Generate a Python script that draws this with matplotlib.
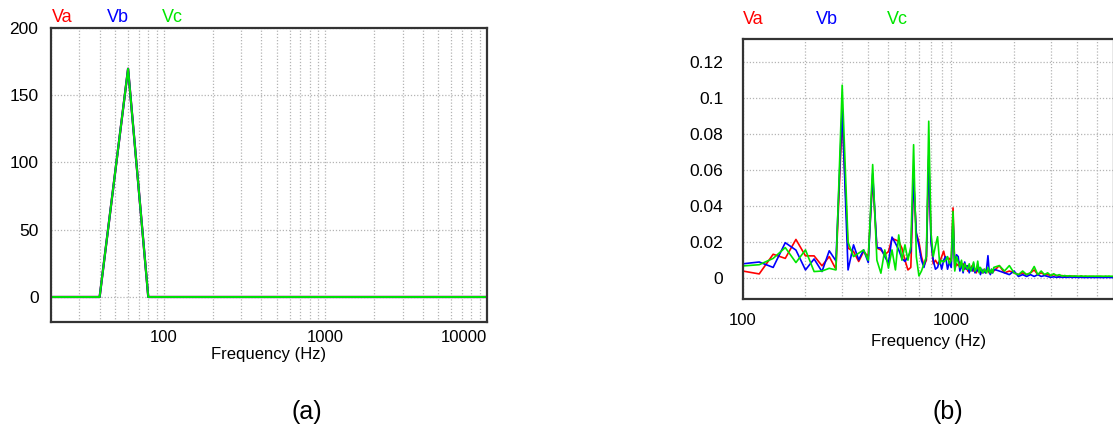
import numpy as np
import matplotlib
matplotlib.use("Agg")
import matplotlib.pyplot as plt
from matplotlib.ticker import FuncFormatter, NullFormatter, LogLocator

plt.rcParams['font.family'] = ['Liberation Sans', 'DejaVu Sans']

# ---- (a) full spectrum, 20 Hz bins (flat zero above 80 Hz) ----
freq_a = [20, 40, 60, 80, 10000]
va_a = [0, 0, 169.7, 0, 0]
vb_a = [0, 0, 169.7, 0, 0]
vc_a = [0, 0, 169.7, 0, 0]

# ---- (b) zoom on harmonics ----
# 20 Hz bins from 100 to 1580 Hz, then 100 Hz steps from 1600 to 6000 Hz
freq_b = list(range(100, 1600, 20)) + list(range(1600, 6100, 100))

va_b = [
    .004, .0024, .0133, .011, .0215, .0124, .0124, .0069, .012, .005,
    .090, .0167, .0148, .0093, .0148, .012, .055, .0167, .0157, .013,
    .0148, .022, .0213, .0204, .0167, .010, .0046, .006, .055, .025,
    .020, .012, .007, .010, .066, .022, .008, .010, .008, .009,
    .012, .015, .010, .011, .011, .009, .039, .005, .008, .007,
    .009, .006, .008, .005, .007, .004, .006, .005, .007, .004,
    .005, .003, .006, .004, .005, .003, .004, .005, .003, .004,
    .005, .003, .004, .003, .004,
    .004, .007, .003, .004, .003, .002, .003, .002, .003, .0046,
    .002, .003, .002, .002, .0015, .002, .0015, .001, .0015, .001,
    .0012, .001, .0012, .0008, .001, .0009, .0011, .0008, .001, .0009,
    .0008, .001, .0008, .0009, .0008, .001, .0008, .0009, .0008, .0009,
    .0008, .0009, .0008, .0008, .0008,
]
vb_b = [
    .008, .009, .006, .0197, .0156, .0046, .0107, .0037, .0152, .0096,
    .094, .0046, .0185, .0102, .0157, .0087, .058, .017, .0167, .012,
    .0083, .0228, .0194, .0157, .011, .0093, .012, .015, .055, .025,
    .018, .010, .006, .012, .068, .020, .010, .005, .006, .010,
    .005, .010, .012, .005, .009, .006, .033, .006, .013, .012,
    .004, .008, .003, .009, .005, .007, .003, .006, .004, .008,
    .003, .005, .004, .006, .002, .005, .003, .004, .003, .006,
    .0125, .004, .002, .005, .003,
    .005, .004, .003, .002, .004, .001, .002, .001, .002, .001,
    .002, .001, .0015, .001, .0005, .0008, .0005, .0007, .0005, .0006,
    .0005, .0007, .0004, .0006, .0005, .0004, .0006, .0004, .0005, .0004,
    .0005, .0004, .0005, .0004, .0005, .0004, .0005, .0004, .0004, .0005,
    .0004, .0005, .0004, .0004, .0004,
]
vc_b = [
    .0068, .0075, .011, .017, .0087, .0157, .0037, .004, .0055, .0046,
    .107, .020, .012, .0139, .0157, .010, .063, .010, .0028, .0157,
    .0056, .0157, .0046, .024, .010, .0185, .010, .0176, .074, .012,
    .0013, .004, .008, .012, .087, .025, .012, .018, .023, .008,
    .010, .009, .010, .012, .008, .010, .037, .004, .012, .009,
    .006, .010, .004, .008, .006, .005, .008, .004, .006, .009,
    .004, .005, .0095, .003, .006, .004, .003, .005, .004, .003,
    .006, .004, .003, .005, .003,
    .006, .007, .004, .007, .003, .002, .004, .002, .003, .0065,
    .002, .004, .002, .003, .0015, .0025, .0015, .002, .0012, .0015,
    .0012, .0014, .0011, .0013, .0012, .0011, .0013, .0011, .0012, .0011,
    .0012, .0011, .0012, .0011, .0012, .0011, .0012, .0011, .0011, .0012,
    .0011, .0012, .0011, .0011, .0011,
]

RED, BLUE, GREEN = '#ff0000', '#0000ff', '#00e600'
W, H = 1113, 434

fig = plt.figure(figsize=(W / 100, H / 100), dpi=100)


def px_axes(x0, y0, x1, y1):
    # axes from pixel box (top-left origin)
    return fig.add_axes([x0 / W, 1 - y1 / H, (x1 - x0) / W, (y1 - y0) / H])


def style(ax, ypad, xpad):
    ax.set_xscale('log')
    ax.xaxis.set_major_formatter(FuncFormatter(lambda v, p: f'{v:g}'))
    ax.xaxis.set_minor_locator(LogLocator(base=10, subs=np.arange(2, 10)))
    ax.xaxis.set_minor_formatter(NullFormatter())
    ax.yaxis.set_major_formatter(FuncFormatter(lambda v, p: f'{v:g}'))
    ax.tick_params(which='both', length=0, labelsize=12)
    ax.tick_params(axis='y', pad=ypad, labelsize=12.5)
    ax.tick_params(axis='x', pad=xpad)
    grid_kw = dict(color='#b4b4b4', linestyle=(0, (1, 1.5)), linewidth=0.9)
    ax.grid(True, which='major', axis='both', **grid_kw)
    ax.grid(True, which='minor', axis='x', **grid_kw)
    ax.set_axisbelow(True)
    for s in ax.spines.values():
        s.set_color('#333333')
        s.set_linewidth(1.6)


# (a)
ax1 = px_axes(51, 28, 487, 322)
ax1.plot(freq_a, va_a, color=RED, lw=1.6)
ax1.plot(freq_a, vb_a, color=BLUE, lw=1.6)
ax1.plot(freq_a, vc_a, color=GREEN, lw=1.4)
ax1.set_xlim(20, 10000)
ax1.set_ylim(-18.6, 200)
ax1.set_yticks([0, 50, 100, 150, 200])
style(ax1, ypad=9, xpad=6)
ax1.set_xlabel('Frequency (Hz)', fontsize=12, va='center')
ax1.xaxis.set_label_coords(0.5, -0.109)
fig.canvas.draw()
for lab in ax1.get_xticklabels():
    if lab.get_text() == '10000':
        lab.set_horizontalalignment('right')

# (b)
ax2 = px_axes(742.7, 39.3, 1113.5, 299)
ax2.plot(freq_b, va_b, color=RED, lw=1.2)
ax2.plot(freq_b, vb_b, color=BLUE, lw=1.2)
ax2.plot(freq_b, vc_b, color=GREEN, lw=1.2)
ax2.set_xlim(100, 6000)
ax2.set_ylim(-0.0115, 0.1324)
ax2.set_yticks([0, 0.02, 0.04, 0.06, 0.08, 0.1, 0.12])
style(ax2, ypad=14, xpad=10)
ax2.set_xlabel('Frequency (Hz)', fontsize=12, va='center')
ax2.xaxis.set_label_coords(0.5, -0.164)

# phase labels
for x, y, t, c in [(52, 17, 'Va', RED), (107, 17, 'Vb', BLUE), (162, 17, 'Vc', GREEN),
                   (743, 20, 'Va', RED), (816, 20, 'Vb', BLUE), (887, 20, 'Vc', GREEN)]:
    fig.text(x / W, 1 - y / H, t, color=c, fontsize=13, ha='left', va='center')

fig.text(307 / W, 1 - 412 / H, '(a)', fontsize=18, ha='center', va='center')
fig.text(948 / W, 1 - 412 / H, '(b)', fontsize=18, ha='center', va='center')

fig.savefig('out.png', dpi=100)
